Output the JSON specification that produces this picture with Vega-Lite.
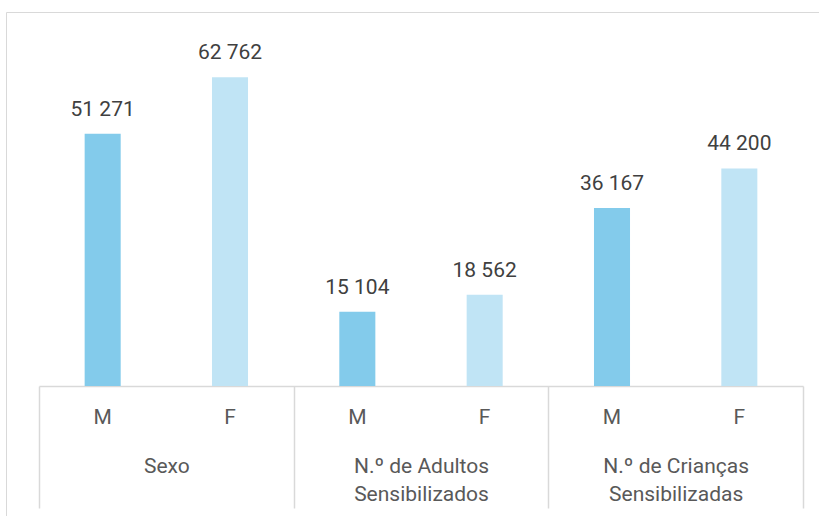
{
  "$schema": "https://vega.github.io/schema/vega-lite/v6.json",
  "width": 816,
  "height": 508,
  "padding": {"left": 6, "top": 12, "right": 0, "bottom": 0},
  "background": "white",
  "config": {
    "view": {"stroke": "#d9d9d9", "strokeWidth": 1},
    "locale": {"number": {"decimal": ",", "thousands": " ", "grouping": [3], "currency": ["", " €"]}},
    "axis": {"labelFont": "Roboto", "labelFontSize": 21, "labelColor": "#595959", "grid": false, "title": null}
  },
  "data": {
    "values": [
      {"group": "Sexo", "sex": "M", "id": "Sexo|M", "value": 51271},
      {"group": "Sexo", "sex": "F", "id": "Sexo|F", "value": 62762},
      {"group": "N.º de Adultos\nSensibilizados", "sex": "M", "id": "Adultos|M", "value": 15104},
      {"group": "N.º de Adultos\nSensibilizados", "sex": "F", "id": "Adultos|F", "value": 18562},
      {"group": "N.º de Crianças\nSensibilizadas", "sex": "M", "id": "Criancas|M", "value": 36167},
      {"group": "N.º de Crianças\nSensibilizadas", "sex": "F", "id": "Criancas|F", "value": 44200}
    ]
  },
  "layer": [
    {
      "encoding": {
        "x": {
          "field": "id", "type": "nominal", "sort": null,
          "scale": {"range": [33, 797], "paddingInner": 0.717, "paddingOuter": 0.3585},
          "axis": {
            "orient": "bottom", "offset": -134, "ticks": false, "tickSize": 0,
            "domain": true, "domainColor": "#d9d9d9", "domainWidth": 1.5,
            "labelAngle": 0, "labelBaseline": "alphabetic", "labelPadding": 37,
            "labelExpr": "peek(split(datum.value, '|'))"
          }
        },
        "y": {
          "field": "value", "type": "quantitative",
          "scale": {"domain": [0, 76000], "range": [374, 0], "nice": false, "zero": true},
          "axis": null
        }
      },
      "layer": [
        {
          "mark": {"type": "bar"},
          "encoding": {
            "color": {
              "field": "sex", "type": "nominal",
              "scale": {"domain": ["M", "F"], "range": ["#83CBEB", "#C0E4F5"]},
              "legend": null
            }
          }
        },
        {
          "mark": {"type": "text", "font": "Roboto", "fontSize": 21, "color": "#404040", "baseline": "alphabetic", "dy": -18},
          "encoding": {
            "text": {"field": "value", "type": "quantitative", "format": ",d"}
          }
        }
      ]
    },
    {
      "mark": {"type": "text", "opacity": 0},
      "encoding": {
        "x": {
          "field": "group", "type": "nominal", "sort": null,
          "scale": {"range": [33, 797], "paddingInner": 0, "paddingOuter": 0},
          "axis": {
            "orient": "bottom", "offset": -134, "domain": false,
            "ticks": true, "tickBand": "extent", "tickExtra": true, "tickSize": 122,
            "tickColor": "#d9d9d9", "tickWidth": 1.5,
            "labelAngle": 0, "labelBaseline": "alphabetic", "labelPadding": -36,
            "labelLineHeight": 28, "labelLimit": 400, "labelOverlap": false,
            "labelExpr": "isValid(datum.value) ? split(datum.value, '\\n') : ''"
          }
        },
        "text": {"value": ""}
      }
    }
  ],
  "resolve": {"scale": {"x": "independent"}, "axis": {"x": "independent"}}
}
